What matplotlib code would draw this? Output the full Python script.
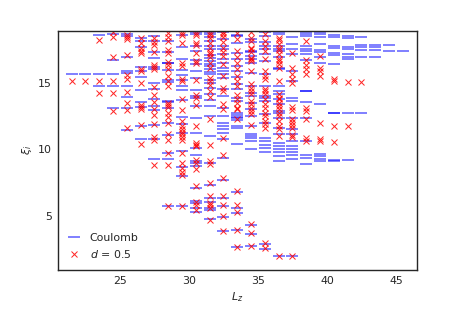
import numpy as np
import matplotlib
matplotlib.use('Agg')
import matplotlib.pyplot as plt

# ------------------------------------------------------------------
# Data: entanglement-like levels per angular momentum sector L_z
# ------------------------------------------------------------------
lz = [21.5, 22.5, 23.5, 24.5, 25.5, 26.5, 27.5, 28.5, 29.5, 30.5,
      31.5, 32.5, 33.5, 34.5, 35.5, 36.5, 37.5, 38.5, 39.5, 40.5,
      41.5, 42.5, 43.5, 44.5, 45.5]

coulomb_xi = [
    [15.65],
    [15.65],
    [18.55, 15.65, 14.72],
    [18.65, 16.72, 15.65, 14.72, 13.1],
    [18.65, 18.5, 16.95, 15.85, 15.7, 14.75, 13.9, 13.1, 11.45],
    [18.35, 18.1, 17.7, 16.15, 15.9, 15.45, 14.45, 13.55, 13.2, 11.78, 10.75],
    [18.5, 18.1, 17.3, 16.85, 16.2, 16.05, 15.0, 14.55, 13.8, 13.25, 12.95,
     11.85, 10.8, 9.3],
    [18.1, 17.3, 16.5, 16.45, 15.95, 15.2, 15.05, 13.65, 13.55, 13.07, 11.95,
     11.05, 9.75, 9.25, 5.75],
    [18.9, 18.6, 17.65, 16.78, 15.95, 15.55, 15.2, 14.75, 14.45, 13.7, 12.4,
     11.9, 11.2, 9.9, 8.7, 8.0, 5.72],
    [18.8, 18.65, 17.72, 17.35, 16.72, 16.4, 15.85, 15.35, 14.45, 13.97, 13.82,
     13.22, 12.35, 11.22, 10.07, 9.57, 9.1, 8.97, 8.75, 7.1, 6.1, 5.95, 5.6,
     5.32],
    [18.83, 18.68, 18.45, 18.13, 17.76, 17.5, 17.08, 16.85, 16.63, 16.4, 16.25,
     16.0, 15.8, 15.63, 15.2, 15.0, 14.62, 14.12, 13.67, 13.25, 12.5, 10.99,
     9.0, 7.32, 6.32, 6.07, 5.6, 5.45, 4.75],
    [18.76, 18.26, 17.76, 17.51, 17.13, 16.75, 16.5, 16.13, 15.88, 15.63, 15.38,
     14.5, 14.0, 13.12, 12.49, 11.95, 11.74, 11.49, 11.2, 10.74, 9.36, 7.73,
     6.35, 5.78, 4.92, 3.85],
    [18.85, 18.6, 18.5, 18.0, 17.25, 16.75, 16.25, 15.9, 15.4, 14.9, 14.55,
     13.85, 13.6, 12.74, 12.6, 12.45, 12.35, 12.2, 11.75, 11.6, 10.38, 6.8,
     5.6, 5.2, 3.97, 2.65],
    [18.88, 18.26, 18.01, 17.38, 17.26, 17.0, 16.75, 16.5, 15.75, 14.75, 14.25,
     14.0, 13.5, 13.0, 12.49, 11.74, 11.12, 10.99, 10.86, 10.61, 9.99, 4.35,
     3.67, 2.77],
    [18.76, 18.51, 18.01, 17.76, 17.51, 17.13, 16.63, 15.63, 14.75, 14.0, 13.87,
     13.62, 12.62, 11.99, 10.86, 10.61, 10.36, 10.11, 9.81, 2.9, 2.55],
    [18.76, 18.63, 17.76, 17.51, 17.38, 16.93, 16.13, 16.0, 14.75, 14.37, 14.12,
     13.75, 13.37, 12.87, 12.74, 12.37, 11.62, 11.12, 10.49, 10.24, 10.06,
     9.81, 9.49, 9.16, 2.04],
    [18.88, 18.43, 17.93, 17.51, 17.13, 15.88, 15.13, 13.87, 13.62, 12.37,
     11.49, 11.12, 10.61, 10.24, 9.99, 9.81, 9.56, 9.24, 2.04],
    [18.88, 18.76, 18.63, 18.51, 17.76, 17.51, 17.38, 17.18, 16.7, 14.4, 14.35,
     13.57, 12.37, 10.61, 9.61, 9.36, 8.91],
    [18.76, 18.63, 18.43, 17.88, 17.43, 17.26, 16.93, 16.5, 13.42, 9.66, 9.49,
     9.31, 9.11],
    [18.58, 18.43, 17.76, 17.63, 17.2, 17.07, 16.43, 12.76, 12.7, 9.2, 9.1],
    [18.5, 18.35, 17.65, 17.5, 17.15, 16.95, 16.75, 12.74, 9.22],
    [18.43, 17.8, 17.7, 17.43, 16.93, 12.74],
    [17.8, 17.7, 17.43, 16.93],
    [17.83, 17.38],
    [17.38],
]

d05_xi = [
    [15.15],
    [15.15],
    [18.2, 15.15, 14.22],
    [18.8, 18.42, 16.9, 15.15, 14.25, 12.9],
    [18.6, 18.45, 18.25, 17.1, 15.6, 15.3, 14.3, 13.45, 12.92, 11.6],
    [18.35, 17.95, 17.6, 17.4, 17.2, 16.05, 15.85, 14.95, 13.3, 13.15, 13.05,
     11.82, 10.42],
    [18.38, 18.05, 17.8, 17.3, 16.3, 16.15, 16.05, 14.65, 14.1, 13.55, 13.05,
     12.6, 11.9, 10.9, 10.72, 8.82],
    [18.7, 18.4, 18.1, 17.45, 17.25, 16.55, 16.35, 16.0, 15.5, 15.1, 14.75,
     13.5, 13.35, 13.15, 12.7, 12.4, 12.0, 11.15, 10.7, 9.72, 8.85, 5.75],
    [18.75, 18.55, 17.95, 16.45, 16.25, 15.3, 15.15, 13.75, 12.95, 12.15,
     11.72, 11.5, 11.32, 11.15, 10.95, 10.7, 9.75, 9.0, 8.6, 8.32, 8.08, 5.75],
    [18.72, 18.55, 17.97, 17.85, 17.22, 16.6, 16.47, 15.22, 14.1, 13.85, 13.3,
     11.72, 10.47, 10.35, 10.22, 9.2, 8.95, 8.5, 7.22, 6.05, 5.85, 5.47],
    [18.75, 18.55, 18.35, 18.0, 17.6, 17.26, 17.15, 16.9, 16.5, 16.1, 15.38,
     15.1, 14.8, 14.4, 13.9, 12.25, 10.36, 9.15, 8.9, 7.45, 6.5, 6.0, 5.82,
     5.57, 4.7],
    [18.83, 18.68, 18.43, 18.01, 17.63, 17.33, 17.01, 16.38, 15.5, 14.62,
     14.37, 13.37, 13.0, 10.86, 9.61, 7.86, 6.48, 5.85, 4.97, 3.9],
    [18.75, 18.25, 17.4, 16.9, 16.5, 16.0, 15.5, 15.1, 14.75, 14.1, 13.75,
     13.5, 13.1, 13.0, 12.3, 6.85, 5.85, 5.3, 3.97, 2.67],
    [18.76, 18.38, 18.13, 17.63, 17.51, 17.33, 16.88, 16.75, 16.63, 15.88,
     14.87, 14.62, 14.37, 14.12, 13.62, 13.37, 13.12, 12.87, 12.62, 11.82,
     4.4, 3.7, 2.75],
    [18.63, 18.13, 17.76, 17.38, 16.75, 15.88, 15.5, 15.25, 14.5, 14.37, 14.12,
     13.75, 13.37, 13.12, 12.74, 12.49, 12.12, 11.87, 11.62, 2.97, 2.59],
    [18.38, 18.18, 17.88, 17.63, 17.43, 17.13, 16.75, 16.63, 16.38, 16.13,
     15.13, 14.12, 13.87, 13.75, 13.5, 13.25, 13.0, 12.74, 12.49, 12.12,
     11.74, 11.49, 10.99, 2.04],
    [17.25, 16.1, 15.65, 15.3, 14.95, 13.15, 12.95, 12.3, 12.07, 11.82, 11.57,
     11.07, 10.9, 2.04],
    [18.13, 16.68, 16.33, 16.0, 15.63, 13.12, 12.87, 12.24, 10.86, 10.66],
    [17.0, 16.13, 15.88, 15.5, 11.99, 10.74, 10.61],
    [15.25, 15.13, 11.74, 10.56],
    [15.05, 11.74],
    [15.05],
    [],
    [],
    [],
]

# ------------------------------------------------------------------
# Style (seaborn "white"-like)
# ------------------------------------------------------------------
plt.rcParams.update({
    'font.family': 'DejaVu Sans',
    'font.size': 11,
    'axes.edgecolor': '0.15',
    'axes.linewidth': 1.4,
    'text.color': '0.15',
    'axes.labelcolor': '0.15',
    'xtick.color': '0.15',
    'ytick.color': '0.15',
    'xtick.major.size': 0,
    'ytick.major.size': 0,
})

fig = plt.figure(figsize=(463 / 72, 309 / 72), dpi=72)
ax = fig.add_axes([0.125, 0.126, 0.775, 0.775])


def _flatten(levels):
    xs = [x for x, vals in zip(lz, levels) for _ in vals]
    ys = [v for vals in levels for v in vals]
    return np.array(xs), np.array(ys)


cx, cy = _flatten(coulomb_xi)
dx, dy = _flatten(d05_xi)

ax.plot(cx, cy, '_', color='blue', alpha=0.65, markersize=12,
        markeredgewidth=1.5, label='Coulomb')
ax.plot(dx, dy, 'x', color='red', alpha=0.85, markersize=5.5,
        markeredgewidth=1.0, label=r'$d$ = 0.5')

ax.set_xlim(20.5, 46.5)
ax.set_ylim(0.95, 18.9)
ax.set_xticks([25, 30, 35, 40, 45])
ax.set_yticks([5, 10, 15])
ax.tick_params(pad=6)
ax.set_xlabel(r'$L_z$')
ax.set_ylabel(r'$\xi_i$')

ax.legend(loc='lower left', frameon=False, handlelength=1.2,
          borderaxespad=0.5)

fig.savefig('out.png', dpi=72)
